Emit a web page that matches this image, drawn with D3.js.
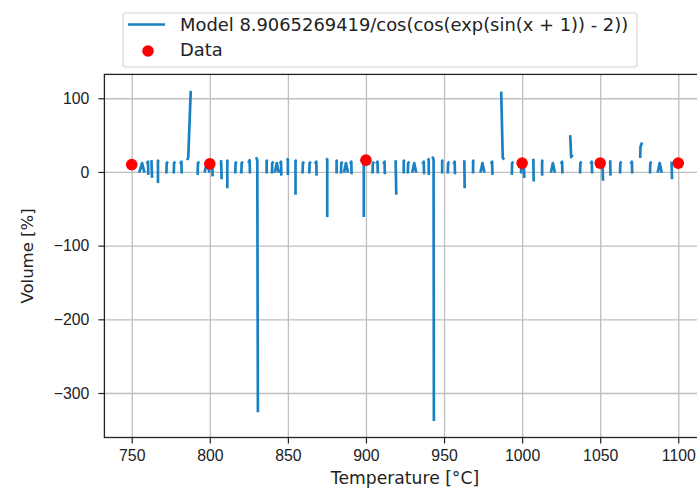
<!DOCTYPE html>
<html>
<head>
<meta charset="utf-8">
<script src="https://cdn.jsdelivr.net/npm/d3@7"></script>
<style>
  body { margin: 0; background: #fff; }
  svg { font-family: "DejaVu Sans", sans-serif; }
  .axis text { font-size: 15.8px; fill: #222; }
  .axis line { stroke: #222; stroke-width: 1.2; }
  .grid line { stroke: #bfbfbf; stroke-width: 1.3; }
  .axis path, .grid path { display: none; }
</style>
</head>
<body>
<div id="chart"></div>
<script>
// measured data
const dataX = [750, 800, 900, 1000, 1050, 1100];
const dataY = [10, 11, 16, 12, 12, 12];

// model curve, null = gap between strokes
const modelX = [
  754.8, 756.6, 758.2, null, 759.6, 760.4, 760.6, null, 762.6, 763.0, null,
  767.6, 766.8, 766.8, null, 772.2, 772.4, 773.2, null, 776.9, 777.1, 777.9, null,
  781.0, 781.8, 782.0, null, 785.6, 786.2, 787.8, null, 792.2, 792.4, 793.2, null,
  796.6, 798.2, 799.8, null, 800.8, 801.6, 801.8, null, 807.2, 807.6, null,
  812.0, 811.2, 811.2, null, 816.3, 816.5, 817.3, null, 820.2, 820.4, 821.2, null,
  824.7, 825.5, 825.7, null, 829.6, 830.4, 830.8, null, 837.2, 836.4, 836.4, null,
  839.8, 840.0, 840.8, null, 841.6, 842.9, 844.2, null, 844.9, 845.6, 845.8, null,
  849.2, 850.0, 850.0, null, 855.7, 854.9, 854.9, null, 859.4, 859.6, 860.4, null,
  863.7, 863.9, 864.7, null, 867.4, 868.2, 868.4, null, 874.4, 875.2, 875.2, null,
  882.0, 881.2, 881.2, null, 884.0, 884.2, 885.0, null, 885.9, 887.2, 888.5, null,
  889.8, 890.6, 890.8, null, 899.4, 898.6, 898.6, null, 904.2, 904.4, 905.2, null,
  906.6, 907.4, 907.6, null, 911.1, 911.9, 912.1, null, 919.0, 919.4, null,
  925.0, 924.2, 924.2, null, 926.8, 927.0, 927.8, null, 929.6, 930.9, 932.2, null,
  936.2, 937.0, 937.2, null, 939.4, 940.2, 940.2, null, 942.5, 943.3, 943.5, null,
  949.6, 948.8, 948.8, null, 952.4, 952.6, 953.4, null, 956.0, 956.8, 957.0, null,
  963.0, 963.2, null, 969.4, 968.6, 968.6, null, 973.3, 974.6, 975.9, null,
  980.0, 980.8, 981.0, null, 986.6, 987.6, 988.6, null, 993.4, 993.6, 994.4, null,
  998.4, 999.2, 999.4, null, 1001.0, 1001.4, null, 1007.2, 1007.4, null,
  1013.6, 1012.8, 1012.8, null, 1018.4, 1019.7, 1021.0, null, 1024.8, 1025.6, 1025.8, null,
  1030.8, 1031.4, 1032.4, null, 1037.1, 1037.3, 1038.1, null, 1043.8, 1044.6, 1044.8, null,
  1051.4, 1051.8, null, 1056.4, 1056.6, null, 1062.7, 1062.9, 1063.7, null,
  1069.5, 1070.3, 1070.5, null, 1075.6, 1075.8, 1076.8, null, 1081.9, 1082.1, 1082.9, null,
  1086.8, 1088.1, 1089.4, null, 1095.7, 1096.0
];
const modelY = [
  -1, 12, -1, null, 11, 14, -4, null, 16, -8, null,
  16, 15, -15, null, -2, 12, 14, null, -2, 12, 14, null,
  11, 14, -2, null, 16, 20, 110, null, -4, 12, 14, null,
  -1, 13, -1, null, 13, 16, -6, null, 16, -10, null,
  16, 15, -22, null, -2, 12, 14, null, -2, 12, 14, null,
  12, 16, -2, null, 20, 16, -326, null, 16, 15, -2, null,
  -2, 12, 14, null, -1, 12, -1, null, 11, 14, -5, null,
  18, 17, -4, null, 16, 15, -31, null, -2, 12, 14, null,
  -2, 12, 14, null, 11, 14, -5, null, 18, 17, -61, null,
  16, 15, -2, null, -2, 12, 14, null, -1, 12, -1, null,
  11, 14, -3, null, 16, 15, -61, null, -2, 12, 14, null,
  11, 14, -2, null, 11, 14, -3, null, 16, -31, null,
  16, 15, -2, null, -2, 12, 14, null, -1, 12, -1, null,
  11, 14, -3, null, 18, 17, -4, null, 21, 17, -338, null,
  16, 15, -2, null, -2, 12, 14, null, 11, 14, -3, null,
  16, -22, null, 16, 15, -2, null, -1, 12, -1, null,
  11, 14, -4, null, 109, 19, 17, null, -4, 12, 14, null,
  11, 14, -2, null, 15, -8, null, 18, -13, null,
  16, 15, -5, null, -1, 12, -1, null, 11, 14, -2, null,
  50, 20, 24, null, -2, 12, 14, null, 11, 14, -2, null,
  16, -12, null, 16, -5, null, -2, 12, 14, null,
  11, 14, -2, null, 19, 34, 40, null, -2, 12, 14, null,
  -1, 12, -1, null, 14, -10
];

const xTicks = [750, 800, 850, 900, 950, 1000, 1050, 1100];
const yTicks = [-300, -200, -100, 0, 100];
const modelLabel = "Model 8.9065269419/cos(cos(exp(sin(x + 1)) - 2))";
const dataLabel = "Data";

const W = 697, H = 488;
const plot = { left: 104.4, right: 705.6, top: 74.4, bottom: 437.5 };

const svg = d3.select("#chart").append("svg")
    .attr("width", W)
    .attr("height", H);

const x = d3.scaleLinear().domain([732.5, 1117.5]).range([plot.left, plot.right]);
const y = d3.scaleLinear().domain([-360.4, 132.4]).range([plot.bottom, plot.top]);

const fmt = d => d < 0 ? "\u2212" + Math.abs(d) : String(d);

// grid
svg.append("g")
    .attr("class", "grid")
    .attr("transform", `translate(0,${plot.bottom})`)
    .call(d3.axisBottom(x).tickValues(xTicks).tickSize(-(plot.bottom - plot.top)).tickFormat(""));
svg.append("g")
    .attr("class", "grid")
    .attr("transform", `translate(${plot.left},0)`)
    .call(d3.axisLeft(y).tickValues(yTicks).tickSize(-(plot.right - plot.left)).tickFormat(""));

// model line
const pts = modelX.map((v, i) => ({ x: v, y: modelY[i] }));
const line = d3.line()
    .defined(d => d.x != null && d.y != null)
    .x(d => x(d.x))
    .y(d => y(d.y));

svg.append("path")
    .datum(pts)
    .attr("fill", "none")
    .attr("stroke", "#1a82c4")
    .attr("stroke-width", 2.7)
    .attr("stroke-linejoin", "round")
    .attr("stroke-linecap", "butt")
    .attr("d", line);

// data points
svg.selectAll(".dot")
    .data(dataX.map((v, i) => ({ x: v, y: dataY[i] })))
    .enter().append("circle")
    .attr("class", "dot")
    .attr("cx", d => x(d.x))
    .attr("cy", d => y(d.y))
    .attr("r", 5.8)
    .attr("fill", "#ff0000");

// spines
svg.append("rect")
    .attr("x", plot.left)
    .attr("y", plot.top)
    .attr("width", plot.right - plot.left)
    .attr("height", plot.bottom - plot.top)
    .attr("fill", "none")
    .attr("stroke", "#222")
    .attr("stroke-width", 1.3);

// axes
svg.append("g")
    .attr("class", "axis")
    .attr("transform", `translate(0,${plot.bottom})`)
    .call(d3.axisBottom(x).tickValues(xTicks).tickSize(6).tickPadding(6.5).tickFormat(fmt));
svg.append("g")
    .attr("class", "axis")
    .attr("transform", `translate(${plot.left},0)`)
    .call(d3.axisLeft(y).tickValues(yTicks).tickSize(6).tickPadding(9).tickFormat(fmt));

svg.append("text")
    .attr("x", (plot.left + plot.right) / 2)
    .attr("y", 484)
    .attr("text-anchor", "middle")
    .style("font-size", "17.2px")
    .style("fill", "#222")
    .text("Temperature [°C]");

svg.append("text")
    .attr("transform", `translate(27,${(plot.top + plot.bottom) / 2}) rotate(-90)`)
    .attr("text-anchor", "middle")
    .attr("dy", "0.35em")
    .style("font-size", "16.5px")
    .style("fill", "#222")
    .text("Volume [%]");

// legend
const legend = svg.append("g");
legend.append("rect")
    .attr("x", 123)
    .attr("y", 13)
    .attr("width", 514)
    .attr("height", 54)
    .attr("rx", 3)
    .attr("fill", "#fff")
    .attr("stroke", "#d6d6d6")
    .attr("stroke-width", 1.2);
legend.append("line")
    .attr("x1", 128).attr("x2", 165)
    .attr("y1", 24.5).attr("y2", 24.5)
    .attr("stroke", "#1a82c4")
    .attr("stroke-width", 2.7);
legend.append("circle")
    .attr("cx", 148).attr("cy", 51)
    .attr("r", 5.8)
    .attr("fill", "#ff0000");
legend.selectAll(".ltext")
    .data([[modelLabel, 25], [dataLabel, 50]])
    .enter().append("text")
    .attr("x", 180)
    .attr("y", d => d[1])
    .attr("dy", "0.35em")
    .style("font-size", "17.9px")
    .style("fill", "#222")
    .text(d => d[0]);
</script>
</body>
</html>
